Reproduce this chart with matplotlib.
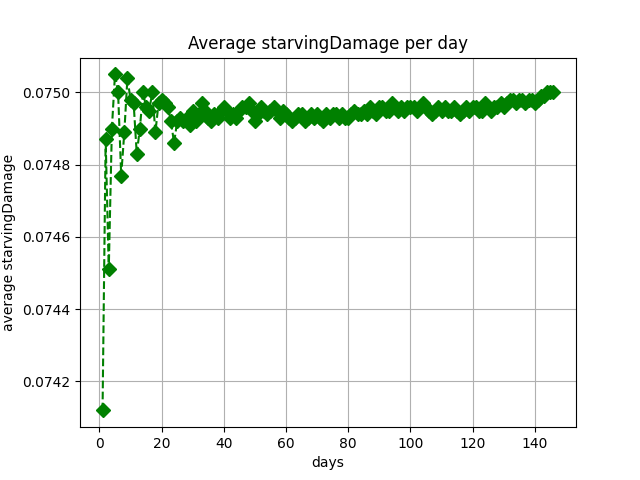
import matplotlib
matplotlib.use("Agg")
import matplotlib.pyplot as plt

early = [0.07412, 0.07487, 0.07451, 0.07490, 0.07505, 0.07500, 0.07477, 0.07489, 0.07504, 0.07498,
         0.07497, 0.07483, 0.07490, 0.07500, 0.07496, 0.07495, 0.07500, 0.07489, 0.07497, 0.07498,
         0.07497, 0.07496, 0.07492, 0.07486, 0.07492, 0.07493, 0.07492, 0.07493, 0.07491, 0.07495]
mid = [0.07492, 0.07494, 0.07497, 0.07495, 0.07493, 0.07492, 0.07494, 0.07493, 0.07495, 0.07496,
       0.07495, 0.07493, 0.07494, 0.07493, 0.07495, 0.07496, 0.07496, 0.07497, 0.07495, 0.07492,
       0.07494, 0.07496, 0.07495, 0.07494, 0.07495, 0.07496, 0.07495, 0.07493, 0.07495, 0.07494,
       0.07493, 0.07492, 0.07493, 0.07494, 0.07494, 0.07492, 0.07493, 0.07494, 0.07493, 0.07494,
       0.07493, 0.07492, 0.07494, 0.07493, 0.07494, 0.07494, 0.07493, 0.07494, 0.07493, 0.07493,
       0.07494, 0.07495, 0.07494, 0.07494, 0.07495, 0.07494, 0.07496, 0.07495, 0.07494, 0.07496,
       0.07496, 0.07495, 0.07495, 0.07497, 0.07496, 0.07495, 0.07496, 0.07495, 0.07496, 0.07496,
       0.07496, 0.07495, 0.07496, 0.07497, 0.07496, 0.07495, 0.07494, 0.07495, 0.07496, 0.07495,
       0.07496, 0.07495, 0.07495, 0.07496, 0.07495, 0.07494, 0.07495, 0.07496, 0.07495, 0.07496,
       0.07496, 0.07495, 0.07495, 0.07497, 0.07496, 0.07495, 0.07496, 0.07496, 0.07497, 0.07496,
       0.07497, 0.07498, 0.07498, 0.07497, 0.07498, 0.07498, 0.07497, 0.07498, 0.07498, 0.07497,
       0.07498, 0.07499, 0.07499, 0.07500, 0.07500, 0.07500]
values = early + mid
days = list(range(1, len(values) + 1))

fig, ax = plt.subplots(figsize=(6.4, 4.8), dpi=100)
ax.plot(days, values, color="green", linestyle="--", marker="D", markersize=7)
ax.set_title("Average starvingDamage per day")
ax.set_xlabel("days")
ax.set_ylabel("average starvingDamage")
ax.grid(True)
fig.savefig("out.png")
